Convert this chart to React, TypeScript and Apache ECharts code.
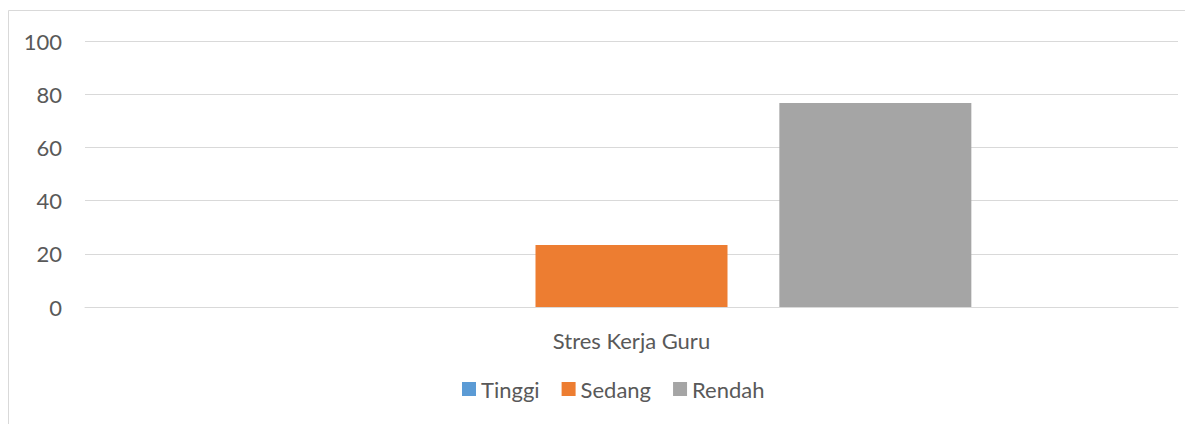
import React, { useEffect, useRef } from "react";
import * as echarts from "echarts";

const categories = ["Stres Kerja Guru"];
const seriesNames = ["Tinggi", "Sedang", "Rendah"];
const tinggiValues = [0];
const sedangValues = [23.3];
const rendahValues = [76.7];
const colors = ["#5b9bd5", "#ed7d31", "#a5a5a5"];

export default function App() {
  const ref = useRef<HTMLDivElement>(null);
  useEffect(() => {
    const chart = echarts.init(ref.current!, null, { renderer: "svg" });
    const font = "Lato";
    const textColor = "#595959";
    const data = [tinggiValues, sedangValues, rendahValues];
    chart.setOption({
      animation: false,
      color: colors,
      textStyle: { fontFamily: font },
      graphic: [
        {
          type: "rect",
          shape: { x: 0.5, y: 2.5, width: 1200, height: 440 },
          style: { fill: "none", stroke: "#d9d9d9", lineWidth: 1 },
          silent: true,
        },
      ],
      grid: { left: 77, right: 15, top: 33, bottom: 117, containLabel: false },
      xAxis: {
        type: "category",
        data: categories,
        axisLine: { show: true, lineStyle: { color: "#d9d9d9", width: 1 } },
        axisTick: { show: false },
        axisLabel: { color: textColor, fontSize: 22, fontFamily: font, margin: 22 },
      },
      yAxis: {
        type: "value",
        min: 0,
        max: 100,
        interval: 20,
        axisLine: { show: false },
        axisTick: { show: false },
        splitLine: { lineStyle: { color: "#d9d9d9", width: 1 } },
        axisLabel: { color: textColor, fontSize: 22, fontFamily: font, margin: 23 },
      },
      legend: {
        bottom: 19,
        left: 449,
        itemWidth: 14,
        itemHeight: 14,
        itemGap: 22,
        icon: "rect",
        textStyle: { color: textColor, fontSize: 22, fontFamily: font, padding: [0, 0, 0, 0] },
        data: seriesNames,
      },
      series: seriesNames.map((name, i) => ({
        name,
        type: "bar",
        data: data[i],
        barWidth: 192,
        barGap: "27%",
        itemStyle: { color: colors[i] },
      })),
    });
    return () => chart.dispose();
  }, []);
  return <div ref={ref} style={{ width: 1185, height: 416 }} />;
}
